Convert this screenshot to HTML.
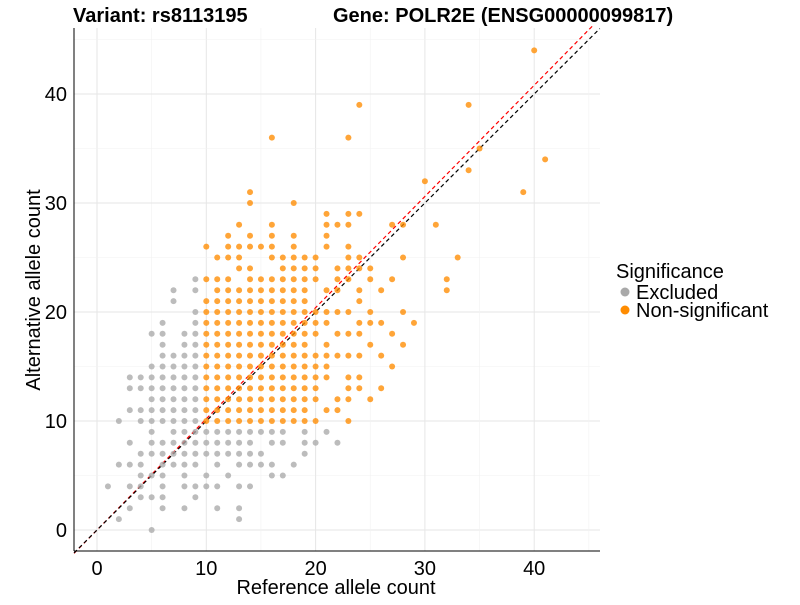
<!DOCTYPE html>
<html><head><meta charset="utf-8"><style>
body{margin:0;background:#fff;font-family:"Liberation Sans",sans-serif}
</style></head><body>
<svg id="chart" width="800" height="600" xmlns="http://www.w3.org/2000/svg">
<rect width="800" height="600" fill="#fff"/>
<text x="73" y="22" font-size="20" font-weight="bold">Variant: rs8113195</text>
<text x="333" y="22" font-size="20" font-weight="bold">Gene: POLR2E (ENSG00000099817)</text>
<g id="grid"></g><g id="lines"></g><g id="pts"></g><g id="axes"></g>
<text x="336" y="594" font-size="20" text-anchor="middle">Reference allele count</text>
<text transform="translate(40,290) rotate(-90)" font-size="20" text-anchor="middle">Alternative allele count</text>
<g>
<text x="616" y="278" font-size="20">Significance</text>
<circle cx="625" cy="292" r="4.5" fill="#a9a9a9"/>
<text x="636" y="299" font-size="20">Excluded</text>
<circle cx="625" cy="310" r="4.5" fill="#ff8c00"/>
<text x="636" y="317" font-size="20">Non-significant</text>
</g>
</svg>
<script>
const xTicks=[0,10,20,30,40];
const yTicks=[0,10,20,30,40];
// grey (excluded) rows: y -> list of x
const greyRows={23:[9],22:[7,9],21:[7],20:[9],19:[6,9],18:[5,6,8,9],17:[6,8,9],16:[6,7,8,9],15:[5,6,7,8,9],
14:[3,4,5,6,7,8,9],13:[3,4,5,6,7,8,9],12:[5,6,7,8,9],11:[3,4,5,6,7,8,9],10:[2,4,5,6,7,8,9],
9:[5,7,8,9,10,11,12,13,14,15,16,17,19,21],8:[3,5,6,7,8,9,10,11,12,13,14,16,17,19,20,22],
7:[4,5,6,7,8,9,10,11,12,13,14,15,19],6:[2,3,4,6,7,8,9,11,13,14,15,16,18],5:[4,5,6,8,10,12,16,17],
4:[1,3,4,6,8,9,10,11,13,14],3:[4,5,6,9],2:[3,6,8,11,13],1:[2,13],0:[5]};
// orange (non-significant) rows
const orangeRows={10:[10,11,12,13,14,15,16,17,18,19,20,23],11:[10,11,12,13,14,15,16,17,18,19,21,22],
12:[10,11,12,13,14,15,16,17,18,19,20,22,23,25],13:[10,11,12,13,14,15,16,17,18,19,20,23,24,26],
14:[10,11,12,13,14,15,16,17,18,19,20,21,23,24],15:[10,11,12,13,14,15,16,17,18,19,20,21,27],
16:[10,11,12,13,14,15,16,17,18,19,20,21,22,23,24,26],17:[10,11,12,13,14,15,16,17,18,19,21,25,28],
18:[10,11,12,13,14,15,16,17,18,19,20,22,23,24,27],19:[10,11,12,13,14,15,16,17,18,19,20,21,24,25,26,29],
20:[10,11,12,13,14,15,16,17,18,19,20,21,22,23,25,28],21:[10,11,12,13,14,15,16,17,18,19,24],
22:[11,12,13,14,15,16,17,18,19,21,22,24,26,32],23:[10,11,12,14,15,16,17,18,19,20,22,23,25,27,32],
24:[13,14,17,18,19,20,22,23,24,25],25:[11,12,13,16,17,18,19,20,23,24,28,33],26:[10,12,13,14,15,16,18,21,23],
27:[12,14,16,18,21],28:[13,16,21,22,23,27,28,31],29:[21,23,24],30:[14,18],31:[14,39],32:[30],33:[34],
34:[41],35:[35],36:[16,23],39:[24,34],44:[40]};
const X=v=>97+v*10.93, Y=v=>530-v*10.9;
const NS="http://www.w3.org/2000/svg";
function mk(tag,attrs,parent){const e=document.createElementNS(NS,tag);for(const k in attrs)e.setAttribute(k,attrs[k]);document.getElementById(parent).appendChild(e);return e;}
for(let v=0;v<=45;v+=5){
 const major=v%10===0;
 const g1=mk('line',{x1:X(v),x2:X(v),y1:28,y2:551,stroke:major?'#e6e6e6':'#f2f2f2','stroke-width':major?1:0.6},'grid');
 
 
 const g2=mk('line',{x1:74,x2:600,y1:Y(v),y2:Y(v),stroke:major?'#e6e6e6':'#f2f2f2','stroke-width':major?1:0.6},'grid');
 
 
}
function addPts(rows,color,name){
 for(const y in rows){for(const x of rows[y]){
  const c=mk('circle',{cx:X(x),cy:Y(+y),r:3,fill:color,'fill-opacity':0.78},'pts');
  
  
 }}
}
addPts(greyRows,'#a9a9a9','excluded-point');
addPts(orangeRows,'#ff8c00','nonsignificant-point');
const l1=mk('line',{x1:X(-2.1),y1:Y(-2.1*1.02),x2:X(45.3),y2:Y(45.3*1.02),stroke:'#ff0000','stroke-width':1.2,'stroke-dasharray':'4,3'},'lines');


const l2=mk('line',{x1:X(-2.1),y1:Y(-2.1),x2:X(46),y2:Y(46),stroke:'#000','stroke-width':1.2,'stroke-dasharray':'4,3'},'lines');


const ax=mk('line',{x1:74,y1:28,x2:74,y2:551,stroke:'#000','stroke-width':1},'axes');


const ax2=mk('line',{x1:74,y1:551,x2:600,y2:551,stroke:'#000','stroke-width':1},'axes');


for(const t of xTicks){
 const e=mk('text',{x:X(t),y:575,'font-size':20,'text-anchor':'middle'},'axes');e.textContent=t;
 
 
}
for(const t of yTicks){
 const e=mk('text',{x:67,y:Y(t)+7,'font-size':20,'text-anchor':'end'},'axes');e.textContent=t;
 
 
}
</script>
</body></html>
